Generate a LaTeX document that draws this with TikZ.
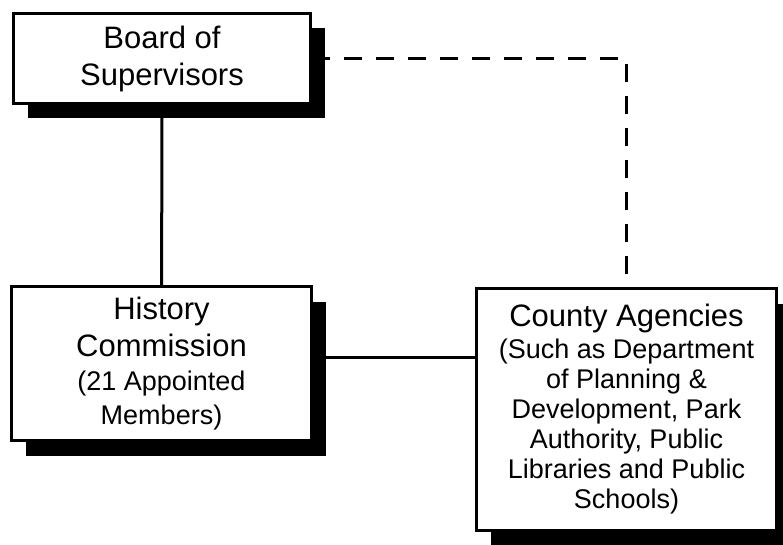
\documentclass[tikz,border=0pt]{standalone}
\usepackage{fontspec}
\setmainfont{Liberation Sans}
\usetikzlibrary{shadows}

\tikzset{
  orgbox/.style={draw, line width=3pt, fill=white, align=center, inner sep=0pt,
    drop shadow={shadow xshift=14pt, shadow yshift=-15pt, fill=black, opacity=1},
    font=\fontsize{31}{37}\selectfont},
  link/.style={line width=3pt},
  dashlink/.style={line width=3pt, dash pattern=on 18pt off 14pt},
}
\newcommand{\subtxt}{\fontsize{27}{30}\selectfont}

\begin{document}
\begin{tikzpicture}[x=1pt, y=-1pt]
  \useasboundingbox (0,0) rectangle (783,545);
  % boxes
  \node[orgbox, minimum width=297pt, minimum height=90pt] (board) at (162,58.5)
    {Board of\\Supervisors};
  \node[orgbox, minimum width=300pt, minimum height=154pt] (history) at (161.5,363.5)
    {History\\Commission\\[-3pt]\subtxt (21 Appointed\\[-3pt]\subtxt Members)};
  \node[orgbox, minimum width=300pt, minimum height=242pt] (county) at (626.5,409.5)
    {County Agencies\\[-5pt]\subtxt (Such as Department\\[-7pt]\subtxt of Planning \&\\[-7pt]%
     \subtxt Development, Park\\[-7pt]\subtxt Authority, Public\\[-7pt]%
     \subtxt Libraries and Public\\[-7pt]\subtxt Schools)};
  % lines
  \draw[link] (board) -- (history);
  \draw[link] ([yshift=6pt]history.east) -- ([yshift=6pt]history.east -| county.west);
  \draw[dashlink] (board.east) -- (board.east -| county.north) -- (county.north);
\end{tikzpicture}
\end{document}
